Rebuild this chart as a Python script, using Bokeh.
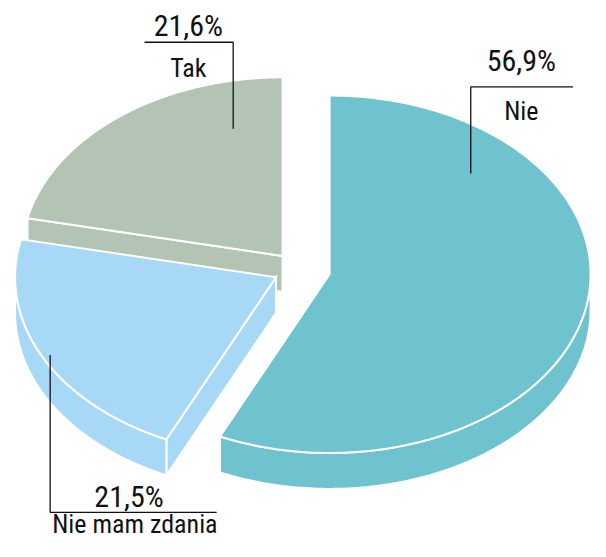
import numpy as np
from bokeh.plotting import figure
from bokeh.models import Range1d
from bokeh.embed import file_html
from bokeh.resources import INLINE
from bokeh.core.properties import value

# ---- data ----
categories = ["Nie", "Nie mam zdania", "Tak"]
shares = [56.9, 21.5, 21.6]
pct_labels = ["56,9%", "21,5%", "21,6%"]

# ---- style / layout ----
colors = ["#6ec3cf", "#a7d8f5", "#b3c4b5"]
explode = [32.8, 25.7, 26.0]
CX, CY = 306.0, 277.0
RX, RY = 268.0, 184.0
DEPTH = 37.0
FONT = "'Liberation Sans Narrow', 'Arial Narrow', 'Roboto Condensed', 'DejaVu Sans Condensed', Roboto, sans-serif"

# leader lines and label anchors (layout, in picture coordinates)
leader_xs = {"Nie": [588, 483, 483], "Nie mam zdania": [51, 51, 222], "Tak": [148, 239, 239]}
leader_ys = {"Nie": [89, 89, 178], "Nie mam zdania": [365, 527, 527], "Tak": [43, 43, 132]}
pct_pos = {"Nie": (535, 62), "Nie mam zdania": (132, 511), "Tak": (193, 26)}
name_pos = {"Nie": (535, 114), "Nie mam zdania": (138, 539), "Tak": (193, 70)}

p = figure(width=590, height=541, x_range=Range1d(0, 606), y_range=Range1d(557, 0),
           output_backend="svg", toolbar_location=None, min_border=0)
p.axis.visible = False
p.grid.visible = False
p.outline_line_color = None
p.background_fill_color = "white"

total = float(sum(shares))
starts = np.cumsum([0.0] + shares[:-1]) / total * 360.0
ends = starts + np.array(shares) / total * 360.0


def rim(cx, cy, th_deg, dy=0.0):
    th = np.radians(th_deg)
    return cx + RX * np.sin(th), cy - RY * np.cos(th) + dy


face_xs, face_ys, face_cols = [], [], []
slices = []
for i in range(len(shares)):
    t0, t1 = starts[i], ends[i]
    mid = np.radians((t0 + t1) / 2)
    cx = CX + explode[i] * np.sin(mid)
    cy = CY - explode[i] * (RY / RX) * np.cos(mid)
    slices.append((cy - np.cos(mid) * 50, i, t0, t1, cx, cy))

slices.sort()
for _, i, t0, t1, cx, cy in slices:
    col = colors[i]
    # radial walls facing the viewer
    for t, nrm in ((t0, t0 - 90), (t1, t1 + 90)):
        if np.cos(np.radians(nrm)) < -1e-6:
            rx, ry = rim(cx, cy, t)
            face_xs.append([cx, rx, rx, cx])
            face_ys.append([cy, ry, ry + DEPTH, cy + DEPTH])
            face_cols.append(col)
    # outer curved side
    a, b = max(t0, 90.0), min(t1, 270.0)
    if b > a:
        th = np.linspace(a, b, 120)
        tx, ty = rim(cx, cy, th)
        face_xs.append(list(tx) + list(tx[::-1]))
        face_ys.append(list(ty) + list((ty + DEPTH)[::-1]))
        face_cols.append(col)
    # top face
    th = np.linspace(t0, t1, 200)
    tx, ty = rim(cx, cy, th)
    face_xs.append([cx] + list(tx))
    face_ys.append([cy] + list(ty))
    face_cols.append(col)

p.patches(face_xs, face_ys, fill_color=face_cols, line_color="white", line_width=2,
          line_join="miter")

p.multi_line([leader_xs[c] for c in categories], [leader_ys[c] for c in categories],
             line_color="#111111", line_width=1.3)

p.text([pct_pos[c][0] for c in categories], [pct_pos[c][1] for c in categories], text=pct_labels,
       text_align="center", text_baseline="alphabetic", text_font=value(FONT),
       text_font_size="30px", text_color="#111111")
p.text([name_pos[c][0] for c in categories], [name_pos[c][1] for c in categories], text=categories,
       text_align="center", text_baseline="alphabetic", text_font=value(FONT),
       text_font_size="26px", text_color="#111111")

open("out.html", "w").write(file_html(p, INLINE))
